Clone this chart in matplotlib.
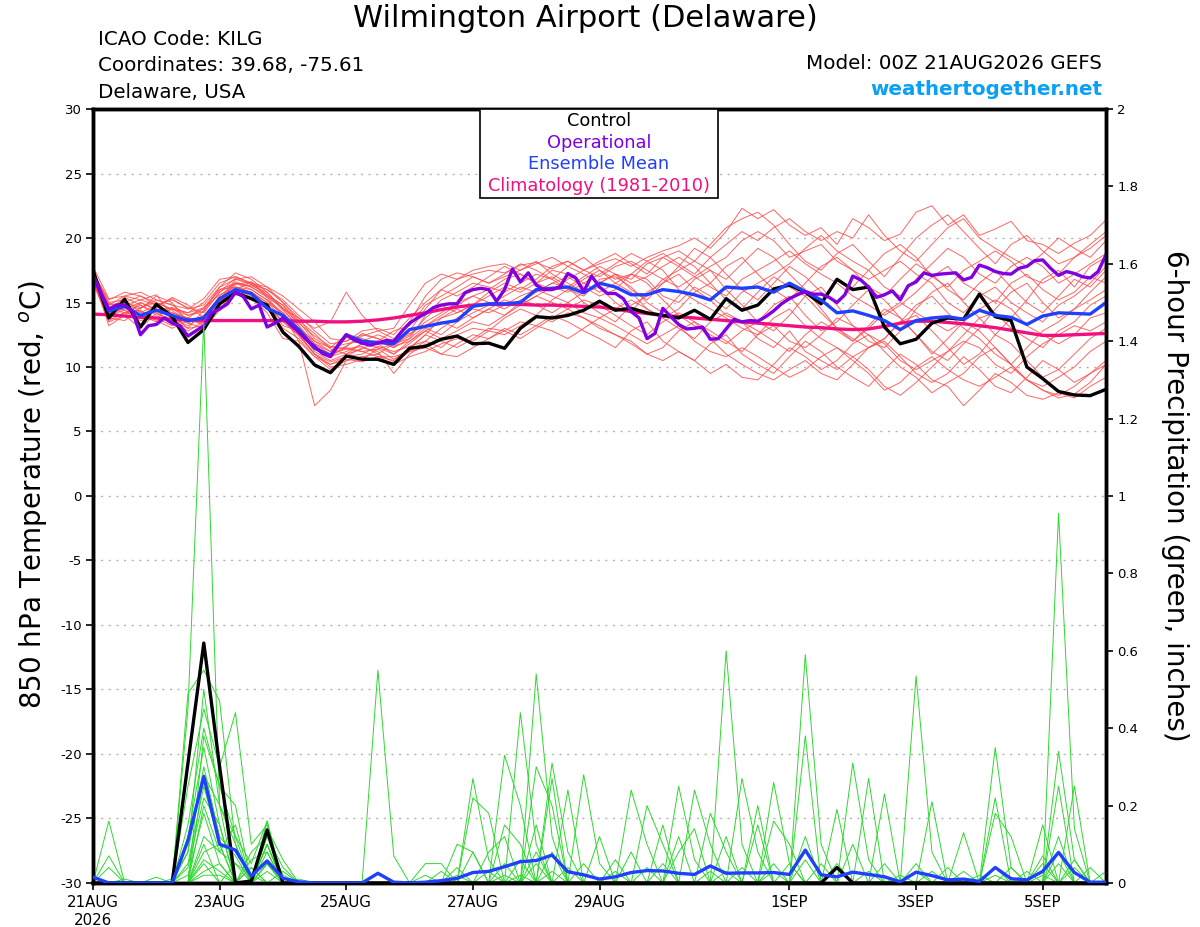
import numpy as np
import matplotlib
matplotlib.use("Agg")
import matplotlib.pyplot as plt
from matplotlib.patches import Rectangle

# ---- data (6-hourly from 00Z 21AUG2026, operational is 3-hourly) ----
control_t = [17.5, 13.8, 15.25, 13.1, 14.86, 13.9, 11.9, 12.9, 14.9, 15.76, 15.3, 14.8, 12.7, 11.6, 10.16, 9.56, 10.85, 10.6, 10.6, 10.2, 11.45, 11.6,
             12.15, 12.4, 11.8, 11.85, 11.45, 13.0, 13.9, 13.8, 14.0, 14.4, 15.1, 14.4, 14.55, 14.2, 14.0, 13.8, 14.4, 13.7, 15.3, 14.4, 14.8, 16.05,
             16.35, 15.8, 14.9, 16.8, 16.0, 16.2, 13.1, 11.8, 12.15, 13.4, 13.8, 13.7, 15.65, 13.9, 13.6, 10.0, 9.1, 8.1, 7.83, 7.78, 8.27]

mean_t = [17.1, 14.35, 14.7, 14.0, 14.4, 14.0, 13.6, 13.8, 15.3, 16.0, 15.7, 14.55, 14.0, 12.9, 11.45, 10.9, 12.5, 12.0, 11.9, 11.8, 12.9, 13.15,
          13.4, 13.6, 14.7, 14.9, 14.9, 15.0, 16.0, 16.1, 16.2, 15.75, 16.5, 16.2, 15.6, 15.6, 16.0, 15.85, 15.6, 15.2, 16.2, 16.1, 16.2, 15.8,
          16.5, 15.85, 15.2, 14.2, 14.35, 14.0, 13.6, 12.9, 13.6, 13.8, 13.9, 13.7, 14.4, 14.0, 13.85, 13.3, 13.95, 14.2, 14.15, 14.1, 15.0]

clim_t = [14.1, 14.05, 13.95, 13.85, 13.8, 13.7, 13.65, 13.6, 13.6, 13.6, 13.6, 13.6, 13.6, 13.55, 13.55, 13.5, 13.5, 13.55, 13.65, 13.8, 14.0, 14.2,
          14.45, 14.65, 14.8, 14.85, 14.85, 14.85, 14.8, 14.8, 14.75, 14.7, 14.65, 14.5, 14.3, 14.15, 14.0, 13.9, 13.8, 13.7, 13.6, 13.5, 13.4, 13.3,
          13.2, 13.1, 13.05, 12.95, 12.9, 12.95, 13.15, 13.4, 13.55, 13.55, 13.45, 13.35, 13.2, 13.05, 12.85, 12.65, 12.45, 12.45, 12.5, 12.55, 12.6]

oper_t = [17.1, 15.7, 14.5, 14.8, 14.8, 14.3, 12.5, 13.2, 13.3, 13.8, 13.4, 13.2, 12.4, 12.8, 13.2, 14.2, 14.5, 14.9, 15.8, 15.45, 14.5, 14.8,
          13.1, 13.4, 13.8, 13.25, 12.7, 12.1, 11.6, 11.05, 10.8, 11.7, 12.5, 12.1, 11.85, 11.7, 11.85, 12.05, 12.0, 12.75, 13.4, 13.8, 14.15,
          14.6, 14.8, 14.9, 14.9, 15.75, 16.0, 16.1, 16.0, 15.1, 16.0, 17.6, 16.6, 17.3, 16.35, 16.0, 16.0, 16.2, 17.25, 16.9, 15.85, 17.05, 16.2,
          15.7, 15.7, 15.3, 14.3, 13.8, 12.2, 12.6, 14.55, 13.9, 13.3, 12.95, 13.0, 13.1, 12.15, 12.2, 12.95, 13.7, 13.5, 13.6, 13.55, 13.9,
          14.35, 14.9, 15.3, 15.6, 15.85, 15.65, 15.65, 15.4, 15.0, 15.6, 17.05, 16.75, 16.2, 15.4, 15.6, 15.9, 15.2, 16.3, 16.6, 17.3, 17.1,
          17.2, 17.25, 17.3, 16.75, 16.95, 17.9, 17.7, 17.4, 17.25, 17.2, 17.65, 17.8, 18.25, 18.3, 17.65, 17.1, 17.4, 17.25, 17.0, 16.9, 17.4, 18.7]

members_t = [
    [17.2, 14.5, 15.0, 14.6, 15.2, 14.8, 14.0, 14.3, 15.8, 16.9, 16.4, 15.6, 14.8, 13.5, 12.0, 11.2, 12.3, 11.8, 12.0, 11.5, 12.8,
     14.5, 16.0, 16.8, 17.2, 17.5, 17.3, 17.9, 18.1, 17.6, 18.2, 17.5, 18.0, 18.4, 17.8, 18.5, 19.0, 19.4, 20.0, 19.2, 20.5, 22.3, 21.5,
     22.2, 21.0, 20.2, 20.8, 19.5, 21.5, 20.8, 19.8, 20.3, 22.0, 22.5, 21.0, 21.8, 20.2, 20.7, 21.3, 19.8, 19.5, 18.8, 19.6, 20.2, 21.4],
    [17.0, 13.2, 14.0, 13.0, 14.2, 13.5, 12.8, 13.5, 15.0, 16.2, 16.0, 15.2, 14.0, 12.0, 7.0, 8.2, 10.5, 10.8, 11.0, 10.4, 11.2,
     12.0, 11.5, 12.5, 13.0, 12.8, 13.8, 14.5, 14.0, 15.2, 16.0, 15.5, 16.8, 17.0, 16.2, 15.0, 14.2, 15.5, 16.8, 17.5, 16.0, 14.8, 13.5,
     12.8, 14.0, 15.5, 16.2, 14.8, 13.2, 12.0, 11.5, 12.8, 14.5, 15.8, 16.5, 15.0, 13.8, 12.5, 13.8, 15.2, 16.8, 17.5, 16.2, 17.8, 18.5],
    [17.5, 14.8, 15.5, 15.2, 14.8, 15.3, 14.5, 14.8, 16.2, 17.3, 16.8, 15.8, 14.5, 13.8, 13.0, 13.5, 15.8, 14.0, 12.8, 13.0, 14.8,
     16.5, 17.2, 16.8, 17.5, 17.8, 18.0, 17.5, 18.2, 17.2, 16.5, 15.8, 16.2, 15.0, 14.2, 15.8, 16.5, 17.2, 16.0, 15.2, 14.0, 13.5, 12.2,
     11.5, 12.8, 11.2, 10.5, 9.8, 10.8, 11.5, 12.2, 13.5, 14.0, 12.8, 11.5, 10.2, 11.0, 12.5, 11.8, 10.5, 9.2, 9.8, 11.0, 12.2, 13.0],
    [16.8, 13.8, 14.2, 14.0, 13.5, 14.2, 13.8, 13.2, 14.8, 16.0, 15.5, 14.8, 13.5, 12.5, 11.0, 10.2, 10.8, 11.5, 11.2, 9.5, 11.0,
     11.8, 11.0, 10.8, 11.5, 12.2, 13.0, 12.5, 13.2, 14.0, 13.5, 12.8, 12.2, 11.5, 12.8, 13.5, 12.0, 11.2, 10.5, 11.8, 12.5, 11.0, 10.2,
     9.5, 10.8, 12.0, 11.2, 10.0, 9.2, 8.5, 9.8, 11.0, 10.2, 9.0, 8.5, 7.0, 8.2, 9.5, 8.8, 7.8, 7.5, 8.0, 7.6, 8.5, 9.2],
    [17.3, 15.2, 15.8, 15.5, 15.0, 14.5, 14.2, 15.0, 16.5, 17.0, 16.5, 16.0, 15.2, 14.0, 12.8, 11.8, 12.0, 12.5, 12.2, 11.8, 13.5,
     15.5, 16.8, 17.3, 17.0, 16.5, 17.2, 18.0, 17.5, 16.8, 17.8, 18.5, 17.5, 16.8, 17.2, 18.2, 18.8, 18.0, 17.2, 18.5, 19.5, 20.5, 19.8,
     20.8, 21.5, 20.5, 19.8, 20.5, 20.0, 21.8, 20.2, 19.0, 18.2, 19.5, 20.8, 21.5, 20.0, 19.2, 18.5, 17.8, 18.8, 20.0, 19.2, 18.5, 19.8],
    [16.9, 14.0, 14.8, 14.5, 15.5, 15.0, 13.5, 13.8, 15.5, 16.5, 16.2, 15.5, 14.8, 13.2, 11.5, 10.8, 11.2, 11.8, 11.5, 11.0, 12.0,
     13.0, 12.5, 13.5, 14.2, 14.8, 15.5, 16.2, 15.8, 16.5, 17.0, 16.2, 15.5, 16.0, 17.2, 16.5, 15.2, 14.0, 13.2, 12.5, 11.8, 12.8, 13.5,
     14.8, 15.5, 14.0, 12.8, 13.5, 14.8, 16.0, 15.2, 13.8, 12.5, 11.2, 10.5, 11.8, 13.0, 14.5, 15.8, 16.5, 15.0, 13.8, 14.5, 15.2, 16.0],
    [17.6, 14.2, 14.5, 15.0, 14.5, 13.8, 13.2, 14.0, 15.2, 16.8, 17.0, 16.2, 15.0, 13.8, 12.2, 11.5, 11.8, 12.0, 12.5, 12.0, 12.5,
     13.5, 14.2, 15.0, 15.5, 16.0, 16.8, 17.2, 16.5, 17.0, 16.2, 15.0, 14.2, 13.5, 14.8, 15.5, 16.8, 17.5, 18.2, 17.5, 16.8, 18.0, 19.2,
     18.5, 17.2, 16.0, 14.5, 13.0, 12.0, 13.2, 14.5, 13.8, 12.5, 11.0, 12.2, 13.5, 12.8, 11.5, 10.2, 9.0, 8.5, 9.2, 10.0, 11.2, 12.0],
    [17.0, 14.5, 14.2, 14.8, 14.0, 14.5, 14.0, 14.5, 16.0, 16.2, 15.8, 15.0, 14.2, 13.0, 11.8, 11.0, 11.5, 11.2, 10.8, 10.5, 11.5,
     12.5, 13.8, 14.5, 13.8, 14.5, 15.2, 14.8, 15.5, 16.2, 15.8, 16.5, 17.2, 18.0, 18.8, 18.2, 17.5, 16.0, 15.2, 14.5, 13.8, 13.0, 12.5,
     13.2, 12.0, 11.5, 12.5, 13.8, 13.2, 12.5, 11.8, 10.5, 9.8, 10.5, 11.2, 12.5, 13.8, 14.2, 13.0, 12.2, 11.5, 12.8, 13.5, 14.8, 15.5],
    [17.4, 15.0, 15.2, 14.2, 14.8, 15.2, 14.6, 14.2, 15.8, 16.5, 16.0, 15.2, 14.2, 12.8, 11.2, 10.5, 11.0, 11.8, 12.0, 11.5, 12.2,
     14.0, 15.2, 15.8, 16.5, 16.2, 15.8, 16.5, 17.2, 16.8, 16.0, 16.8, 17.5, 16.5, 15.8, 14.5, 13.8, 14.5, 15.8, 16.5, 17.8, 18.5, 17.2,
     16.0, 15.2, 16.5, 17.8, 18.5, 17.5, 16.2, 15.5, 16.8, 18.0, 17.2, 16.0, 15.2, 16.5, 17.5, 16.2, 15.0, 14.2, 15.5, 16.8, 16.2, 17.5],
    [16.7, 13.5, 14.0, 13.8, 14.5, 14.0, 13.0, 13.2, 14.5, 15.8, 15.2, 14.5, 13.0, 12.2, 10.8, 9.8, 10.5, 10.8, 10.5, 10.2, 10.8,
     11.2, 11.8, 12.2, 12.0, 12.8, 12.5, 13.2, 14.0, 13.5, 14.2, 13.8, 13.0, 12.5, 11.8, 11.0, 11.5, 12.8, 13.5, 12.2, 11.0, 10.2, 9.5,
     9.0, 9.8, 10.5, 9.5, 9.0, 10.2, 11.5, 12.0, 10.8, 9.5, 8.8, 9.5, 10.8, 9.8, 8.5, 8.0, 9.2, 10.5, 9.8, 8.8, 9.5, 10.2],
    [17.8, 15.3, 15.5, 15.8, 15.2, 14.8, 14.5, 15.3, 16.8, 17.0, 16.5, 16.2, 15.5, 14.5, 13.5, 12.2, 12.0, 12.8, 13.0, 12.5, 13.8,
     15.0, 16.0, 15.5, 16.2, 17.0, 17.8, 17.2, 16.5, 16.0, 16.8, 17.5, 18.2, 18.8, 18.0, 17.2, 18.5, 19.0, 18.2, 19.5, 20.8, 21.5, 22.0,
     21.0, 19.5, 18.2, 17.5, 18.8, 19.5, 18.2, 17.0, 18.5, 20.0, 21.0, 21.8, 20.5, 19.2, 18.0, 19.5, 20.2, 19.0, 18.0, 18.5, 19.5, 20.5],
    [16.6, 14.2, 14.6, 14.3, 13.8, 13.2, 13.8, 14.6, 16.0, 16.5, 16.3, 15.8, 14.5, 13.0, 12.0, 11.5, 12.5, 12.2, 11.8, 11.0, 11.8,
     12.8, 12.2, 12.8, 13.5, 13.2, 14.0, 14.8, 15.5, 15.0, 14.5, 15.2, 14.8, 14.0, 13.2, 12.5, 13.5, 14.2, 13.5, 12.8, 12.0, 11.2, 12.5,
     13.8, 14.5, 13.2, 12.2, 11.5, 10.8, 9.8, 8.5, 7.8, 8.8, 10.0, 11.2, 12.0, 11.5, 10.2, 9.5, 10.8, 11.8, 12.5, 13.2, 12.8, 13.5],
    [17.1, 14.8, 15.0, 15.5, 14.8, 14.2, 13.8, 13.6, 15.2, 16.4, 16.6, 15.4, 14.0, 12.6, 11.4, 10.8, 11.6, 12.4, 12.8, 12.2, 12.6,
     13.2, 13.8, 14.2, 14.8, 15.5, 16.2, 15.8, 16.5, 17.5, 17.2, 16.5, 15.8, 16.5, 17.2, 16.8, 15.5, 15.0, 16.2, 15.5, 14.5, 15.8, 16.5,
     17.2, 18.0, 19.2, 20.2, 19.0, 18.2, 17.5, 16.2, 15.5, 16.8, 18.0, 19.2, 18.5, 17.2, 16.5, 17.8, 18.5, 17.8, 16.5, 17.2, 18.0, 18.8],
    [16.9, 13.8, 13.6, 14.6, 15.0, 14.4, 13.4, 14.0, 15.4, 16.0, 15.6, 14.6, 13.6, 12.4, 11.0, 10.4, 10.8, 11.0, 11.6, 11.2, 11.6,
     12.0, 13.0, 13.8, 14.5, 14.2, 14.8, 15.5, 16.0, 15.5, 15.0, 14.2, 13.8, 14.5, 15.2, 14.5, 13.8, 13.0, 12.2, 13.5, 14.2, 13.5, 12.8,
     12.0, 11.2, 12.5, 13.5, 12.8, 12.0, 13.0, 14.2, 15.0, 14.2, 13.5, 12.8, 13.5, 14.5, 15.2, 14.5, 13.2, 12.5, 11.8, 12.5, 13.8, 14.2],
    [17.2, 14.6, 14.4, 14.0, 14.6, 15.4, 14.8, 13.8, 15.0, 16.6, 16.2, 15.4, 14.6, 13.4, 12.4, 11.6, 11.4, 11.6, 11.0, 11.8, 12.4,
     13.8, 14.8, 14.2, 14.8, 15.8, 16.5, 16.0, 16.8, 17.8, 18.2, 17.5, 17.0, 17.8, 18.2, 17.5, 16.8, 16.2, 17.0, 17.8, 18.5, 19.8, 20.5,
     19.8, 18.5, 19.0, 19.5, 18.2, 17.5, 16.8, 17.5, 18.2, 17.2, 16.5, 15.0, 14.2, 15.5, 16.2, 15.0, 14.2, 13.5, 14.8, 15.5, 16.5, 17.8],
    [17.0, 14.0, 14.4, 13.6, 13.8, 14.6, 13.6, 13.4, 14.6, 15.6, 15.8, 15.0, 13.8, 12.6, 11.0, 10.0, 10.2, 10.6, 11.4, 10.6, 11.4,
     12.5, 12.0, 11.5, 12.2, 13.0, 12.8, 12.2, 13.0, 13.8, 14.5, 13.8, 13.2, 12.5, 12.0, 11.0, 10.5, 11.2, 10.5, 9.5, 10.2, 9.2, 9.0,
     10.2, 11.5, 10.8, 9.8, 10.5, 11.8, 12.5, 11.2, 10.0, 9.2, 8.0, 8.8, 9.5, 10.8, 11.5, 10.2, 9.0, 8.2, 7.8, 8.5, 9.5, 10.5],
    [17.5, 14.4, 15.4, 14.8, 14.2, 13.6, 13.0, 14.4, 16.2, 16.8, 16.4, 16.0, 15.0, 13.6, 12.6, 11.4, 11.0, 11.4, 12.0, 12.8, 13.2,
     14.8, 15.5, 16.2, 17.0, 16.5, 17.0, 17.5, 18.0, 18.5, 17.8, 17.2, 16.5, 17.2, 16.0, 15.2, 16.5, 17.8, 19.2, 18.5, 17.2, 16.0, 15.2,
     16.5, 17.8, 17.0, 15.8, 15.0, 16.2, 17.5, 18.8, 19.5, 18.5, 17.0, 16.2, 17.5, 18.2, 19.0, 18.2, 17.0, 16.5, 17.2, 18.5, 19.2, 20.2],
    [16.8, 14.2, 14.0, 15.0, 14.4, 14.6, 14.2, 14.6, 15.6, 16.2, 15.8, 14.8, 13.2, 12.8, 11.6, 11.0, 11.4, 11.2, 11.4, 11.8, 12.2,
     13.2, 14.0, 14.8, 15.5, 15.0, 14.5, 15.2, 14.8, 14.2, 15.0, 15.8, 16.5, 17.2, 16.5, 17.0, 17.8, 18.5, 17.8, 16.5, 15.2, 14.5, 15.8,
     17.0, 16.2, 15.5, 14.2, 13.0, 12.2, 11.5, 12.2, 13.5, 14.8, 15.5, 14.2, 13.0, 12.2, 11.0, 10.2, 11.5, 12.8, 13.5, 14.5, 15.8, 17.0],
    [17.3, 14.9, 14.8, 15.2, 15.6, 14.0, 13.4, 13.0, 14.4, 16.0, 16.6, 15.6, 14.4, 13.2, 11.8, 11.2, 11.6, 12.6, 12.2, 11.6, 12.0,
     12.8, 13.5, 13.0, 13.8, 14.5, 14.0, 15.0, 15.8, 16.5, 16.2, 17.0, 17.8, 17.2, 16.8, 18.0, 18.5, 17.8, 17.0, 16.2, 15.5, 16.8, 17.5,
     18.2, 19.0, 18.0, 17.2, 16.5, 15.5, 14.8, 14.0, 14.8, 15.8, 17.0, 17.8, 16.5, 15.8, 15.0, 16.5, 17.2, 16.0, 15.2, 15.8, 17.0, 16.5],
    [16.5, 13.6, 14.2, 14.4, 13.6, 13.0, 13.6, 13.8, 15.2, 15.6, 15.4, 14.2, 12.2, 12.0, 10.8, 10.2, 10.6, 10.4, 10.8, 10.8, 11.2,
     11.5, 11.0, 11.8, 12.5, 12.2, 12.8, 13.5, 13.2, 12.8, 12.2, 13.0, 13.8, 13.2, 12.5, 11.8, 12.5, 13.2, 12.0, 11.2, 10.8, 11.5, 10.8,
     10.0, 9.2, 9.8, 10.8, 11.5, 10.5, 9.5, 8.2, 8.8, 10.0, 10.8, 9.8, 9.0, 8.5, 9.2, 10.0, 9.0, 8.2, 7.6, 7.9, 8.8, 10.2],
]

control_p = [0.0, 0, 0, 0, 0, 0, 0.31, 0.62, 0.30, 0, 0.005, 0.137, 0] + [0] * 34 + [0.04] + [0] * 17

mean_p = [0.015, 0, 0, 0, 0, 0, 0.11, 0.275, 0.10, 0.085, 0.018, 0.057, 0.012, 0.003, 0, 0, 0, 0, 0.025, 0.002, 0,
          0.002, 0.006, 0.012, 0.027, 0.030, 0.042, 0.055, 0.058, 0.072, 0.029, 0.021, 0.010, 0.016, 0.027, 0.032, 0.031, 0.025, 0.022, 0.044, 0.025, 0.026, 0.026,
          0.027, 0.022, 0.085, 0.021, 0.016, 0.028, 0.022, 0.016, 0.003, 0.028, 0.019, 0.008, 0.010, 0.004, 0.040, 0.011, 0.008, 0.030, 0.079, 0.027, 0.002, 0.002]

# ensemble precipitation, only the non-zero 6-h totals {step: inches}
members_p = [
    {1: 0.16, 6: 0.45, 7: 1.45, 8: 0.20, 9: 0.12, 11: 0.10, 27: 0.44, 28: 0.10, 45: 0.59, 46: 0.10, 61: 0.34, 62: 0.06},
    {1: 0.07, 6: 0.49, 7: 0.55, 8: 0.47, 9: 0.10, 11: 0.16, 28: 0.54, 29: 0.12, 40: 0.12, 52: 0.535, 53: 0.08, 61: 0.955, 62: 0.14},
    {1: 0.04, 6: 0.25, 7: 0.45, 8: 0.30, 9: 0.44, 10: 0.10, 11: 0.15, 18: 0.55, 19: 0.07, 24: 0.27, 25: 0.06, 40: 0.60, 41: 0.10, 57: 0.35, 58: 0.04},
    {6: 0.15, 7: 0.40, 8: 0.25, 9: 0.20, 11: 0.14, 12: 0.06, 26: 0.33, 27: 0.20, 30: 0.24, 43: 0.26, 44: 0.05, 48: 0.31, 49: 0.06, 61: 0.25},
    {6: 0.12, 7: 0.35, 8: 0.15, 10: 0.08, 11: 0.12, 12: 0.04, 29: 0.31, 30: 0.08, 34: 0.24, 35: 0.10, 45: 0.38, 50: 0.23, 57: 0.22, 60: 0.07},
    {4: 0.015, 6: 0.08, 7: 0.30, 8: 0.12, 9: 0.07, 11: 0.10, 24: 0.22, 25: 0.18, 29: 0.27, 31: 0.28, 32: 0.05, 49: 0.27, 55: 0.13, 61: 0.08},
    {6: 0.05, 7: 0.25, 8: 0.10, 10: 0.06, 11: 0.08, 23: 0.10, 24: 0.08, 28: 0.30, 29: 0.20, 37: 0.25, 38: 0.06, 47: 0.19, 53: 0.21, 62: 0.25},
    {7: 0.20, 8: 0.08, 9: 0.15, 11: 0.05, 21: 0.05, 22: 0.05, 26: 0.15, 27: 0.10, 36: 0.15, 38: 0.24, 39: 0.10, 42: 0.20, 57: 0.18, 58: 0.12},
    {6: 0.02, 7: 0.18, 8: 0.05, 10: 0.04, 12: 0.03, 25: 0.08, 26: 0.12, 28: 0.15, 33: 0.06, 35: 0.20, 36: 0.10, 43: 0.16, 44: 0.10, 60: 0.15},
    {7: 0.10, 9: 0.05, 22: 0.03, 27: 0.06, 29: 0.08, 32: 0.12, 37: 0.12, 41: 0.27, 42: 0.08, 52: 0.05, 56: 0.02, 60: 0.05},
    {7: 0.08, 8: 0.10, 10: 0.04, 21: 0.02, 23: 0.04, 26: 0.05, 34: 0.08, 39: 0.18, 40: 0.08, 45: 0.12, 47: 0.05, 64: 0.03},
    {7: 0.05, 11: 0.05, 24: 0.08, 31: 0.05, 37: 0.08, 38: 0.14, 42: 0.15, 45: 0.06, 48: 0.10, 52: 0.03, 55: 0.03, 57: 0.04},
    {7: 0.03, 8: 0.05, 11: 0.08, 25: 0.03, 30: 0.04, 36: 0.05, 43: 0.05, 46: 0.05, 50: 0.05, 54: 0.04, 59: 0.03, 62: 0.06},
    {7: 0.12, 8: 0.08, 9: 0.05, 10: 0.02, 28: 0.05, 33: 0.03, 44: 0.05, 51: 0.02, 58: 0.04, 63: 0.04},
    {6: 0.04, 7: 0.22, 8: 0.15, 11: 0.12, 12: 0.02, 29: 0.03, 35: 0.04, 49: 0.03, 57: 0.02, 61: 0.05},
    {7: 0.28, 8: 0.20, 9: 0.10, 11: 0.14, 27: 0.02, 39: 0.03, 53: 0.03, 60: 0.02},
    {7: 0.06, 8: 0.03, 11: 0.05, 13: 0.01, 26: 0.02, 41: 0.04},
    {2: 0.01, 7: 0.38, 8: 0.25, 9: 0.12, 10: 0.05, 11: 0.16, 28: 0.08, 43: 0.03, 61: 0.12},
    {5: 0.01, 6: 0.08, 7: 0.50, 8: 0.20, 11: 0.10, 40: 0.03},
    {7: 0.02, 8: 0.02, 11: 0.03, 23: 0.02, 62: 0.04},
]

tick_days = [0, 2, 4, 6, 8, 11, 13, 15]
tick_labels = ["21AUG\n2026", "23AUG", "25AUG", "27AUG", "29AUG", "1SEP", "3SEP", "5SEP"]

# ---- figure ----
t6 = np.arange(len(control_t)) * 0.25      # days
t3 = np.arange(len(oper_t)) * 0.125

fig = plt.figure(figsize=(12, 9.27), dpi=100)
ax = fig.add_axes([0.0775, 0.0475, 0.8442, 0.8349])
ax2 = ax.twinx()

for m in members_t:
    ax.plot(t6, m, color="#ff4a4a", lw=0.7, alpha=0.85, zorder=2)
ax.plot(t6, clim_t, color="#f0107f", lw=2.4, zorder=3)
ax.plot(t6, control_t, color="black", lw=2.4, zorder=4)
ax.plot(t6, mean_t, color="#2040ff", lw=2.4, zorder=5)
ax.plot(t3, oper_t, color="#8000e0", lw=2.4, zorder=6)

for m in members_p:
    p = np.zeros(len(t6))
    for k, v in m.items():
        p[k] = v
    ax2.plot(t6, p, color="#2ed82e", lw=0.7, zorder=2)
ax2.plot(t6, control_p, color="black", lw=2.4, zorder=4, clip_on=False)
ax2.plot(t6, mean_p, color="#2040ff", lw=2.4, zorder=5)

ax.set_xlim(0, 16)
ax.set_ylim(-30, 30)
ax2.set_ylim(0, 2)
ax.set_yticks(np.arange(-30, 31, 5))
ax.set_yticklabels([str(v) for v in range(-30, 31, 5)])
ax2.set_yticks(np.arange(0, 2.01, 0.2))
ax2.set_yticklabels(["0", "0.2", "0.4", "0.6", "0.8", "1", "1.2", "1.4", "1.6", "1.8", "2"])
ax.set_xticks(tick_days)
ax.set_xticklabels(tick_labels, multialignment="center")

for y in range(-25, 30, 5):
    ax.axhline(y, color="#b4b4b4", lw=1.0, ls=(0, (1.5, 4)), zorder=1)

for a in (ax, ax2):
    for s in a.spines.values():
        s.set_linewidth(2.5)
    a.tick_params(direction="out", length=5, width=1.2, labelsize=9.5, pad=3)
ax.tick_params(axis="x", labelsize=10.8, pad=4)

fig.text(0.028, 0.467, "850 hPa Temperature (red, $^o$C)", rotation=90,
         ha="center", va="center", fontsize=20)
fig.text(0.979, 0.465, "6-hour Precipitation (green, inches)", rotation=-90,
         ha="center", va="center", fontsize=20)

fig.text(0.4875, 0.980, "Wilmington Airport (Delaware)", ha="center", va="center", fontsize=22)
fig.text(0.0817, 0.957, "ICAO Code: KILG", ha="left", va="center", fontsize=14.3)
fig.text(0.0817, 0.929, "Coordinates: 39.68, -75.61", ha="left", va="center", fontsize=14.3)
fig.text(0.0817, 0.900, "Delaware, USA", ha="left", va="center", fontsize=14.3)
fig.text(0.9183, 0.932, "Model: 00Z 21AUG2026 GEFS", ha="right", va="center", fontsize=14.3)
fig.text(0.9183, 0.903, "weathertogether.net", ha="right", va="center", fontsize=14.3,
         fontweight="bold", color="#0aa0f5")

# legend box
fig.patches.append(Rectangle((0.4, 0.7864), 0.1983, 0.0960, transform=fig.transFigure,
                             facecolor="white", edgecolor="black", lw=1.2, zorder=10))
leg = [("Control", "black"), ("Operational", "#8000e0"),
       ("Ensemble Mean", "#2040ff"), ("Climatology (1981-2010)", "#f0107f")]
for i, (txt, c) in enumerate(leg):
    fig.text(0.4992, 0.8695 - i * 0.0234, txt, ha="center", va="center",
             fontsize=12.8, color=c, zorder=11)

fig.savefig("out.png", dpi=100)
